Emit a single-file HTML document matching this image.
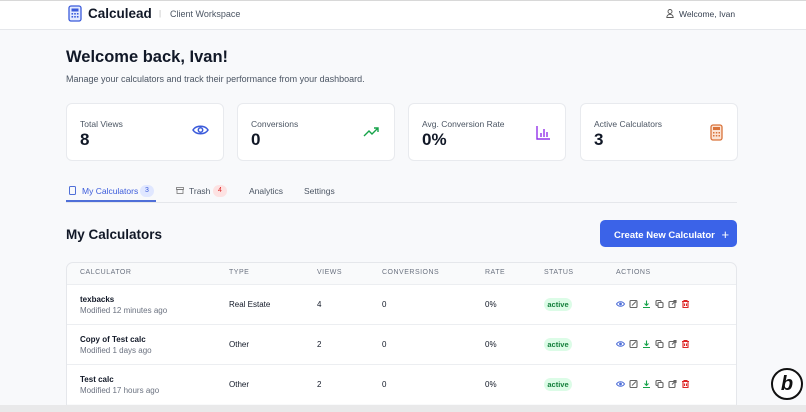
<!DOCTYPE html>
<html><head><meta charset="utf-8"><style>
*{box-sizing:border-box;margin:0;padding:0}
body{width:806px;height:412px;overflow:hidden;background:#f8f9fb;font-family:"Liberation Sans",sans-serif;color:#111827;position:relative}
.hdr{position:absolute;left:0;top:0;width:806px;height:30px;background:#fff;border-bottom:1px solid #e5e7eb;border-top:1px solid #d8d8d8}
.abs{position:absolute}
.card{position:absolute;top:103px;width:158px;height:58px;background:#fff;border:1px solid #e8eaee;border-radius:6px}
.card .l{position:absolute;left:13px;top:15px;font-size:8.5px;color:#4b5563}
.card .v{position:absolute;left:13px;top:26px;font-size:17px;font-weight:bold}
.card svg{position:absolute;right:14px;top:20px}
.th{position:absolute;top:269px;font-size:7px;color:#6b7280;letter-spacing:.5px}
.row{position:absolute;left:67px;width:669px;height:40px;background:#fff;border-top:1px solid #eceef1}
.c{position:absolute;font-size:8px;color:#111827}
.badge{position:absolute;left:477px;top:13px;width:28px;height:13px;background:#dcfce7;color:#15803d;border-radius:7px;font-size:7.5px;font-weight:bold;text-align:center;line-height:13px}
.acts{position:absolute;left:549px;top:15px}
</style></head><body>
<div class="hdr">
 <svg class="abs" style="left:68px;top:4px" width="14" height="17"><rect x="1" y="1" width="12" height="15" rx="2" fill="#e4ebff" stroke="#3b5bdb" stroke-width="1.3"/><rect x="3.5" y="3.5" width="7" height="3" fill="#3b5bdb"/><g fill="#3b5bdb"><rect x="3.5" y="8" width="1.6" height="1.6"/><rect x="6.2" y="8" width="1.6" height="1.6"/><rect x="8.9" y="8" width="1.6" height="1.6"/><rect x="3.5" y="11" width="1.6" height="1.6"/><rect x="6.2" y="11" width="1.6" height="1.6"/><rect x="8.9" y="11" width="1.6" height="1.6"/></g></svg>
 <div class="abs" style="left:88px;top:5px;font-size:13.5px;font-weight:bold">Calculead</div>
 <div class="abs" style="left:159px;top:8px;font-size:8px;color:#bbb">|</div>
 <div class="abs" style="left:170px;top:8px;font-size:9px;color:#4b5563">Client Workspace</div>
 <svg class="abs" style="left:666px;top:8px" width="8" height="9"><circle cx="4" cy="2.5" r="2" fill="none" stroke="#555" stroke-width=".9"/><path d="M0.8 8.5a3.2 3.2 0 0 1 6.4 0z" fill="none" stroke="#555" stroke-width=".9"/></svg>
 <div class="abs" style="left:679px;top:8px;font-size:8.5px;color:#374151">Welcome, Ivan</div>
</div>
<div class="abs" style="left:66px;top:48px;font-size:16.5px;font-weight:bold">Welcome back, Ivan!</div>
<div class="abs" style="left:66px;top:74px;font-size:9px;color:#4b5563">Manage your calculators and track their performance from your dashboard.</div>

<div class="card" style="left:66px"><div class="l">Total Views</div><div class="v">8</div><svg width="17" height="12"><path d="M1 6C4 1 13 1 16 6C13 11 4 11 1 6z" fill="none" stroke="#3b5bdb" stroke-width="1.5"/><circle cx="8.5" cy="6" r="2.2" fill="none" stroke="#3b5bdb" stroke-width="1.5"/></svg></div>
<div class="card" style="left:237px"><div class="l">Conversions</div><div class="v">0</div><svg width="17" height="12" style="top:22px"><path d="M1 10L6 5L9 8L15 2M11 2H15V6" fill="none" stroke="#16a34a" stroke-width="1.4"/></svg></div>
<div class="card" style="left:408px"><div class="l">Avg. Conversion Rate</div><div class="v">0%</div><svg width="15" height="15" style="top:21px"><path d="M1 1V14H14" fill="none" stroke="#9333ea" stroke-width="1.4"/><path d="M5 12V8M8 12V4M11 12V7" stroke="#9333ea" stroke-width="1.4"/></svg></div>
<div class="card" style="left:580px"><div class="l">Active Calculators</div><div class="v">3</div><svg width="13" height="17" style="top:20px"><rect x="1" y="1" width="11" height="15" rx="2" fill="#fbe3d4" stroke="#d9733a" stroke-width="1.3"/><rect x="3" y="3" width="7" height="3" fill="#d9733a"/><g fill="#d9733a"><rect x="3" y="8" width="1.5" height="1.5"/><rect x="5.8" y="8" width="1.5" height="1.5"/><rect x="8.5" y="8" width="1.5" height="1.5"/><rect x="3" y="11" width="1.5" height="1.5"/><rect x="5.8" y="11" width="1.5" height="1.5"/><rect x="8.5" y="11" width="1.5" height="1.5"/></g></svg></div>

<div class="abs" style="left:66px;top:202px;width:671px;height:1px;background:#e5e7eb"></div>
<div class="abs" style="left:66px;top:200px;width:90px;height:2px;background:#4f6fd8"></div>
<svg class="abs" style="left:69px;top:186px" width="7" height="9"><rect x=".5" y=".5" width="6" height="8" rx="1" fill="none" stroke="#4f6fd8"/></svg>
<div class="abs" style="left:82px;top:186px;font-size:8.5px;color:#3b5bdb">My Calculators</div>
<div class="abs" style="left:140px;top:185px;width:14px;height:12px;border-radius:6px;background:#e0e7ff;color:#3b5bdb;font-size:7px;text-align:center;line-height:12px">3</div>
<svg class="abs" style="left:176px;top:187px" width="8" height="7"><rect x=".5" y=".5" width="7" height="2" fill="none" stroke="#777" stroke-width=".8"/><rect x="1" y="2.5" width="6" height="4" fill="none" stroke="#777" stroke-width=".8"/></svg>
<div class="abs" style="left:189px;top:186px;font-size:8.5px;color:#4b5563">Trash</div>
<div class="abs" style="left:213px;top:185px;width:14px;height:12px;border-radius:6px;background:#fde2e2;color:#dc2626;font-size:7px;text-align:center;line-height:12px">4</div>
<div class="abs" style="left:249px;top:186px;font-size:8.5px;color:#4b5563">Analytics</div>
<div class="abs" style="left:304px;top:186px;font-size:8.5px;color:#4b5563">Settings</div>

<div class="abs" style="left:66px;top:227px;font-size:13.5px;font-weight:bold">My Calculators</div>
<div class="abs" style="left:600px;top:220px;width:137px;height:27px;background:#3b63e8;border-radius:5px;color:#fff;font-size:9.5px;font-weight:bold;line-height:27px;padding-left:14px">Create New Calculator <span style="font-size:13px;font-weight:normal;margin-left:4px;position:relative;top:1px">+</span></div>

<div class="abs" style="left:66px;top:262px;width:671px;height:150px;background:#f9fafb;border:1px solid #e5e7eb;border-radius:7px"></div>
<div class="th" style="left:80px">CALCULATOR</div><div class="th" style="left:229px">TYPE</div><div class="th" style="left:317px">VIEWS</div><div class="th" style="left:382px">CONVERSIONS</div><div class="th" style="left:485px">RATE</div><div class="th" style="left:544px">STATUS</div><div class="th" style="left:616px">ACTIONS</div>

<svg width="0" height="0" style="position:absolute"><defs><g id="acts" fill="none" stroke-width="1.1">
<path d="M0.5 4C2.5 1 6.5 1 8.5 4C6.5 7 2.5 7 0.5 4z" stroke="#4f6fd8"/><circle cx="4.5" cy="4" r="1.4" fill="#4f6fd8" stroke="none"/>
<g stroke="#666"><rect x="14" y="0.5" width="7" height="7" rx="1"/><path d="M16 5.5L20 1.5"/></g>
<g stroke="#16a34a"><path d="M30.5 0.5V5M28.5 3.5L30.5 5.5L32.5 3.5M27 7.5H34"/></g>
<g stroke="#666"><rect x="40" y="0.5" width="5" height="5" rx="1"/><rect x="42" y="2.5" width="5" height="5" rx="1" fill="#fff"/></g>
<g stroke="#666"><rect x="53" y="1.5" width="6" height="6" rx="1"/><path d="M56 4.5L60 0.5M57.5 0.5H60V3"/></g>
<g stroke="#dc2626"><path d="M66 1.5H73M68 1.5V0.5H71V1.5M67 1.5V7.5H72V1.5M68.5 3.5V6M70.5 3.5V6"/></g>
</g></defs></svg>

<div class="row" style="top:284px"><div class="c" style="left:13px;top:10px;font-weight:bold">texbacks</div><div class="c" style="left:13px;top:21px;color:#6b7280">Modified 12 minutes ago</div><div class="c" style="left:162px;top:15px">Real Estate</div><div class="c" style="left:250px;top:15px">4</div><div class="c" style="left:315px;top:15px">0</div><div class="c" style="left:418px;top:15px">0%</div><div class="badge">active</div>
<svg class="acts" width="75" height="9"><use href="#acts"/></svg></div>
<div class="row" style="top:324px"><div class="c" style="left:13px;top:10px;font-weight:bold">Copy of Test calc</div><div class="c" style="left:13px;top:21px;color:#6b7280">Modified 1 days ago</div><div class="c" style="left:162px;top:15px">Other</div><div class="c" style="left:250px;top:15px">2</div><div class="c" style="left:315px;top:15px">0</div><div class="c" style="left:418px;top:15px">0%</div><div class="badge">active</div>
<svg class="acts" width="75" height="9"><use href="#acts"/></svg></div>
<div class="row" style="top:364px;height:40px"><div class="c" style="left:13px;top:10px;font-weight:bold">Test calc</div><div class="c" style="left:13px;top:21px;color:#6b7280">Modified 17 hours ago</div><div class="c" style="left:162px;top:15px">Other</div><div class="c" style="left:250px;top:15px">2</div><div class="c" style="left:315px;top:15px">0</div><div class="c" style="left:418px;top:15px">0%</div><div class="badge">active</div>
<svg class="acts" width="75" height="9"><use href="#acts"/></svg></div>
<div class="abs" style="left:0;top:405px;width:806px;height:7px;background:#e9e9ea"></div>
<div class="abs" style="left:771px;top:368px;width:32px;height:32px;border-radius:50%;background:#fff;border:2px solid #111;text-align:center;font:bold italic 20px/28px 'Liberation Sans',sans-serif;color:#111">b</div>
</body></html>
